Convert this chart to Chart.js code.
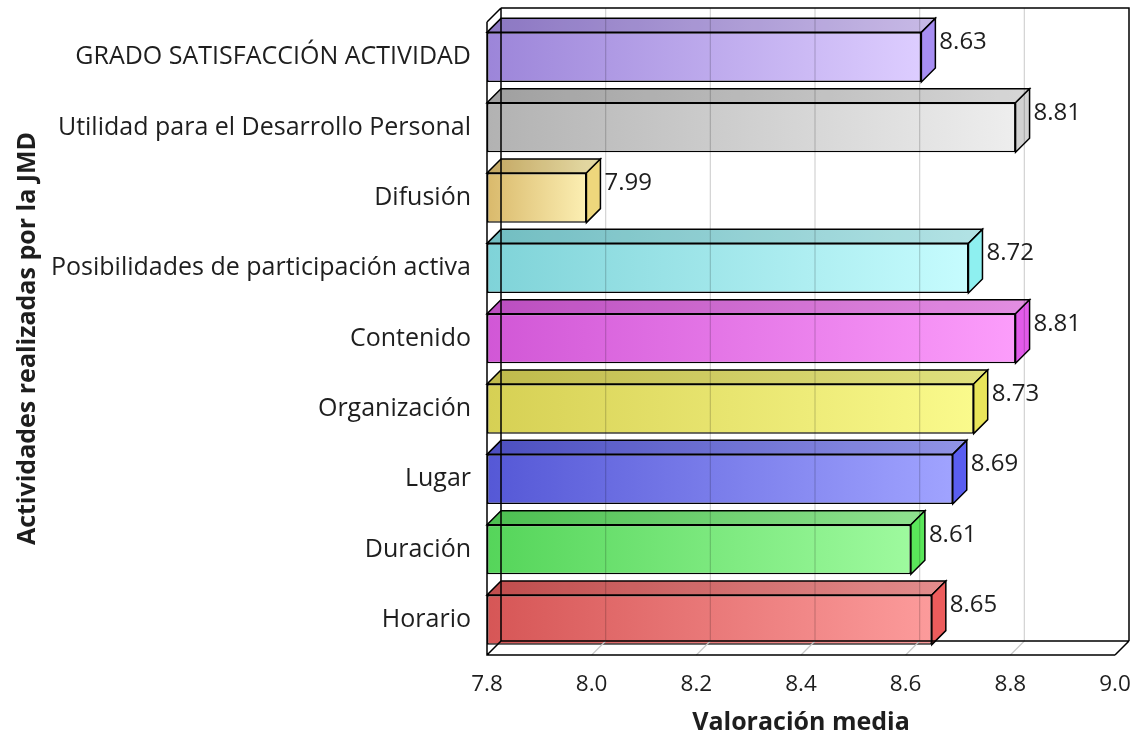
<!DOCTYPE html>
<html>
<head>
<meta charset="utf-8">
<script src="https://cdn.jsdelivr.net/npm/chart.js@4/dist/chart.umd.min.js"></script>
<style>
  html, body { margin: 0; padding: 0; background: #fff; }
</style>
</head>
<body>
<canvas id="chart" width="1137" height="738"></canvas>
<script>
// --- data ---
const categories = [
  'GRADO SATISFACCIÓN ACTIVIDAD',
  'Utilidad para el Desarrollo Personal',
  'Difusión',
  'Posibilidades de participación activa',
  'Contenido',
  'Organización',
  'Lugar',
  'Duración',
  'Horario'
];
const values = [8.63, 8.81, 7.99, 8.72, 8.81, 8.73, 8.69, 8.61, 8.65];
const xTicks = [7.8, 8.0, 8.2, 8.4, 8.6, 8.8, 9.0];
const xTitle = 'Valoración media';
const yTitle = 'Actividades realizadas por la JMD';

// --- palette: front gradient (dark -> light) and side face ---
const gradStart = ['#9c85d9', '#b2b2b2', '#d9b96b', '#7fd3d8', '#d157d6', '#d6d054', '#5558d6', '#55d55a', '#d65656'];
const gradEnd   = ['#ddcdff', '#eeeeee', '#fcefb3', '#c6fcfe', '#fc9dfb', '#fafa8c', '#a0a3ff', '#9efa9e', '#fc9b9b'];
const sideColor = ['#a78ef2', '#d2d2d2', '#eed77c', '#8ef0f0', '#e25aea', '#e9e55a', '#5a5ef0', '#5ae65a', '#ec5c5c'];

const DEPTH = 14;
const FONT = '"Open Sans", "Noto Sans", sans-serif';

function barGradient(ctx2d, x0, x1, i) {
  const g = ctx2d.createLinearGradient(x0, 0, x1, 0);
  g.addColorStop(0, gradStart[i]);
  g.addColorStop(1, gradEnd[i]);
  return g;
}

// keep the plot box fixed: no extra room reserved for overhanging tick labels
function noScalePadding(s) {
  s.paddingLeft = 0; s.paddingRight = 0; s.paddingTop = 0; s.paddingBottom = 0;
}

// draws depth faces, wall grid and frame around the bars
const depthPlugin = {
  id: 'depth3d',
  afterDatasetsDraw(chart) {
    const ctx = chart.ctx;
    const xs = chart.scales.x;
    const area = chart.chartArea;
    const meta = chart.getDatasetMeta(0);
    const D = DEPTH;
    ctx.save();
    ctx.lineJoin = 'miter';

    // top and side faces of each bar
    meta.data.forEach((bar, i) => {
      const p = bar.getProps(['x', 'y', 'base', 'height'], true);
      const top = p.y - p.height / 2;
      const bottom = p.y + p.height / 2;
      const x0 = p.base, x1 = p.x;

      // top face
      ctx.beginPath();
      ctx.moveTo(x0, top);
      ctx.lineTo(x1, top);
      ctx.lineTo(x1 + D, top - D);
      ctx.lineTo(x0 + D, top - D);
      ctx.closePath();
      ctx.fillStyle = barGradient(ctx, x0, x1, i);
      ctx.fill();
      ctx.fillStyle = 'rgba(0,0,0,0.10)';
      ctx.fill();
      ctx.lineWidth = 1.5;
      ctx.strokeStyle = '#000';
      ctx.stroke();

      // side face
      ctx.beginPath();
      ctx.moveTo(x1, top);
      ctx.lineTo(x1 + D, top - D);
      ctx.lineTo(x1 + D, bottom - D);
      ctx.lineTo(x1, bottom);
      ctx.closePath();
      ctx.fillStyle = sideColor[i];
      ctx.fill();
      ctx.stroke();
    });

    // back wall grid lines and floor diagonals
    const backTop = area.top - D;
    const backBottom = area.bottom - D;
    xTicks.forEach((v, k) => {
      if (k === 0 || k === xTicks.length - 1) return;
      const fx = xs.getPixelForValue(v);
      ctx.beginPath();
      ctx.moveTo(fx + D, backTop);
      ctx.lineTo(fx + D, backBottom);
      ctx.lineWidth = 1.2;
      ctx.strokeStyle = 'rgba(0,0,0,0.18)';
      ctx.stroke();
      ctx.beginPath();
      ctx.moveTo(fx, area.bottom);
      ctx.lineTo(fx + D, backBottom);
      ctx.strokeStyle = '#c8c8c8';
      ctx.stroke();
    });

    // frame
    const L = area.left, R = area.right, B = area.bottom, T = area.top;
    ctx.beginPath();
    ctx.moveTo(L, T); ctx.lineTo(L, B); ctx.lineTo(R, B);
    ctx.moveTo(L + D, backTop); ctx.lineTo(L + D, backBottom); ctx.lineTo(R + D, backBottom);
    ctx.moveTo(L + D, backTop); ctx.lineTo(R + D, backTop); ctx.lineTo(R + D, backBottom);
    ctx.moveTo(L, T); ctx.lineTo(L + D, backTop);
    ctx.moveTo(L, B); ctx.lineTo(L + D, backBottom);
    ctx.moveTo(R, B); ctx.lineTo(R + D, backBottom);
    ctx.lineWidth = 1.5;
    ctx.strokeStyle = '#000';
    ctx.stroke();

    // value labels
    ctx.font = '24px ' + FONT;
    ctx.fillStyle = '#1e1e1e';
    ctx.textAlign = 'left';
    ctx.textBaseline = 'middle';
    meta.data.forEach((bar, i) => {
      const p = bar.getProps(['x', 'y', 'height'], true);
      const top = p.y - p.height / 2;
      ctx.fillText(values[i].toFixed(2), p.x + D + 4, top + 10);
    });
    ctx.restore();
  }
};

new Chart(document.getElementById('chart'), {
  type: 'bar',
  data: {
    labels: categories,
    datasets: [{
      data: values,
      base: xTicks[0],
      backgroundColor(c) {
        const chart = c.chart;
        const i = c.dataIndex;
        if (!chart.chartArea || i === undefined) return gradStart[i || 0];
        const xs = chart.scales.x;
        return barGradient(chart.ctx, xs.getPixelForValue(xs.min), xs.getPixelForValue(values[i]), i);
      },
      borderColor: '#000',
      borderWidth: 1.5,
      borderSkipped: false,
      barPercentage: 0.705,
      categoryPercentage: 1
    }]
  },
  options: {
    indexAxis: 'y',
    responsive: false,
    animation: false,
    devicePixelRatio: 1,
    layout: { padding: { top: 22, right: 22, left: 0, bottom: 0 } },
    plugins: {
      legend: { display: false },
      tooltip: { enabled: false },
      title: { display: false }
    },
    scales: {
      x: {
        type: 'linear',
        min: 7.8,
        max: 9.0,
        afterBuildTicks(s) { s.ticks = xTicks.map(v => ({ value: v })); },
        afterFit(s) { s.height = 83; noScalePadding(s); },
        grid: { display: false },
        border: { display: false },
        ticks: {
          padding: 8,
          color: '#1e1e1e',
          font: { family: FONT, size: 22.5 },
          callback: v => Number(v).toFixed(1)
        },
        title: {
          display: true,
          text: xTitle,
          color: '#1e1e1e',
          font: { family: FONT, size: 25, weight: 'bold' },
          padding: { top: 0, bottom: 0 }
        }
      },
      y: {
        afterFit(s) { s.width = 487; noScalePadding(s); },
        grid: { display: false },
        border: { display: false },
        ticks: {
          padding: 8,
          color: '#1e1e1e',
          font: { family: FONT, size: 25 }
        },
        title: {
          display: true,
          text: yTitle,
          color: '#1e1e1e',
          font: { family: FONT, size: 25, weight: 'bold' },
          padding: { top: 13, bottom: 0 }
        }
      }
    }
  },
  plugins: [depthPlugin]
});
</script>
</body>
</html>
